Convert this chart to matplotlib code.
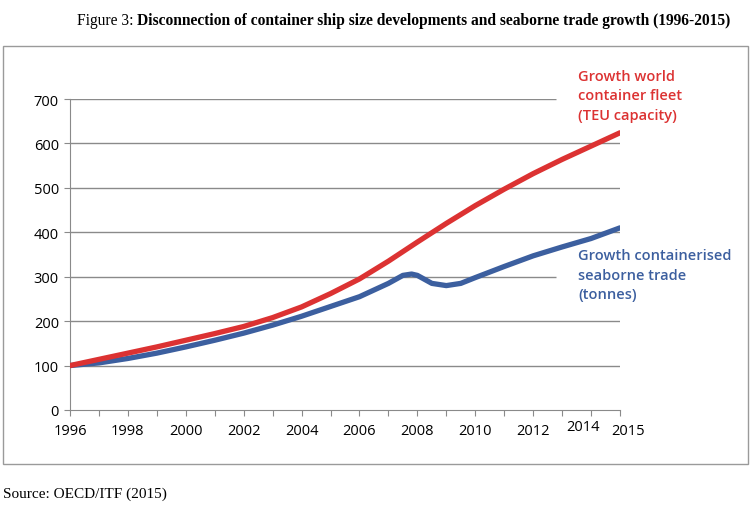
import matplotlib
matplotlib.use("Agg")
from matplotlib import pyplot as plt
from matplotlib.patches import Rectangle

# values (index, 1996 = 100)
fleet_years = [1996, 1997, 1998, 1999, 2000, 2001, 2002, 2003, 2004, 2005,
               2006, 2007, 2008, 2009, 2010, 2011, 2012, 2013, 2014, 2015]
fleet_teu = [100, 114, 128, 142, 157, 172, 188, 208, 232, 262,
             295, 335, 378, 420, 460, 497, 532, 564, 594, 624]

trade_years = [1996, 1997, 1998, 1999, 2000, 2001, 2002, 2003, 2004, 2005,
               2006, 2007, 2007.5, 2007.8, 2008, 2008.5, 2009, 2009.5, 2010,
               2011, 2012, 2013, 2014, 2015]
trade_tonnes = [100, 106, 116, 128, 142, 157, 173, 191, 211, 233,
                255, 285, 303, 306, 303, 285, 280, 285, 298,
                323, 347, 367, 386, 410]

yticks = [0, 100, 200, 300, 400, 500, 600, 700]
xlabels = ["1996", "1998", "2000", "2002", "2004", "2006", "2008", "2010", "2012", "2014", "2015"]

RED = "#dc3232"
BLUE = "#3c5f9f"
GRID = "#8a8a8a"

W, H = 750, 506
fig = plt.figure(figsize=(7.5, 5.06), dpi=100)
ax = fig.add_axes([70 / W, 1 - 411 / H, 550 / W, 311 / H])

# outer frame
fig.patches.append(Rectangle((3 / W, 1 - 465 / H), 745 / W, 418 / H, transform=fig.transFigure,
                             fill=False, edgecolor="#9a9a9a", linewidth=1))

# gridlines, two of them stop short to make room for the labels
for v in yticks[1:]:
    end = 2012.8 if v in (300, 700) else 2015
    ax.hlines(v, 1996, end, color=GRID, linewidth=1, zorder=1)

ax.plot(fleet_years, fleet_teu, color=RED, linewidth=3.8, solid_capstyle="round", zorder=3)
ax.plot(trade_years, trade_tonnes, color=BLUE, linewidth=3.8, solid_capstyle="round", zorder=2)

ax.set_xlim(1996, 2015)
ax.set_ylim(0, 700)
for s in ("top", "right"):
    ax.spines[s].set_visible(False)
ax.spines["left"].set_color(GRID)
ax.spines["bottom"].set_color(GRID)

lab_font = dict(family="Open Sans", size=10.5)
ax.set_yticks(yticks)
ax.set_yticklabels([str(v) for v in yticks], **lab_font)
ax.tick_params(axis="y", length=4, color=GRID, pad=4)
ax.set_xticks(range(1996, 2016))
ax.set_xticklabels([])
ax.tick_params(axis="x", length=4, color=GRID, direction="out")
for lab in xlabels:
    yr = int(lab)
    dy = -15 if yr != 2014 else -12
    dx = -6 if yr == 2014 else (6 if yr == 2015 else 0)
    ax.annotate(lab, (yr, 0), xytext=(dx, dy), textcoords="offset points",
                ha="center", va="center", annotation_clip=False, **lab_font)

note_font = dict(family="Open Sans", size=10.5, weight="semibold", linespacing=1.5,
                 transform=ax.transData, clip_on=False, va="top", ha="left")
ax.text(2013.56, 768, "Growth world\ncontainer fleet\n(TEU capacity)", color=RED, **note_font)
ax.text(2013.56, 364, "Growth containerised\nseaborne trade\n(tonnes)", color=BLUE, **note_font)

# title: normal prefix + bold remainder
title_y = 1 - 21 / H
t1 = fig.text(77 / W, title_y, "Figure 3: ", family="Liberation Serif", size=11.2, va="center")
fig.canvas.draw()
bb = t1.get_window_extent()
fig.text(bb.x1 / W, title_y,
         "Disconnection of container ship size developments and seaborne trade growth (1996-2015)",
         family="Liberation Serif", size=11.2, weight="bold", va="center")

fig.text(3 / W, 1 - 494 / H, "Source: OECD/ITF (2015)", family="Liberation Serif", size=11, va="center")

fig.savefig("out.png", dpi=100)
